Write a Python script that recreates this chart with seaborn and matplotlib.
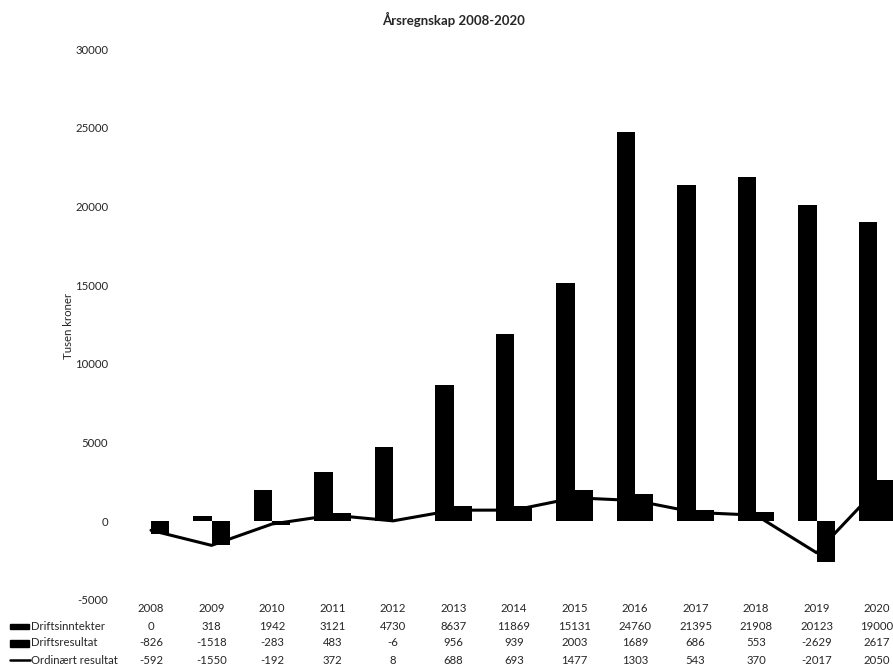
import pandas as pd
import matplotlib
matplotlib.use('Agg')
import matplotlib.pyplot as plt
import seaborn as sns
from matplotlib.patches import Rectangle
from matplotlib.lines import Line2D

years = ['2008', '2009', '2010', '2011', '2012', '2013', '2014',
         '2015', '2016', '2017', '2018', '2019', '2020']
driftsinntekter = [0, 318, 1942, 3121, 4730, 8637, 11869, 15131, 24760, 21395, 21908, 20123, 19000]
driftsresultat = [-826, -1518, -283, 483, -6, 956, 939, 2003, 1689, 686, 553, -2629, 2617]
ordinaert = [-592, -1550, -192, 372, 8, 688, 693, 1477, 1303, 543, 370, -2017, 2050]
serier = ['Driftsinntekter', 'Driftsresultat', 'Ordinært resultat']

sns.set_style('white')
plt.rcParams['font.family'] = ['Lato', 'DejaVu Sans']
fs = 8.2

# long format for the two bar series
bars = pd.DataFrame({
    'år': years * 2,
    'verdi': driftsinntekter + driftsresultat,
    'serie': [serier[0]] * len(years) + [serier[1]] * len(years),
})
linje = pd.DataFrame({'år': years, 'verdi': ordinaert})

fig = plt.figure(figsize=(8.93, 6.69), dpi=100)
ax = fig.add_axes([120.75 / 893, 1 - 599.6 / 669, 786.5 / 893, 550.2 / 669])

sns.barplot(data=bars, x='år', y='verdi', hue='serie', order=years,
            palette=['black', 'black'], width=0.6, gap=0, ax=ax,
            legend=False, saturation=1, linewidth=0, edgecolor='black')
sns.pointplot(data=linje, x='år', y='verdi', order=years, color='black',
              markers='', linewidth=2.2, ax=ax, zorder=5)

ax.set_ylim(-5000, 30000)
ax.set_yticks(range(-5000, 30001, 5000))
ax.set_yticklabels([str(v) for v in range(-5000, 30001, 5000)], fontsize=fs)
ax.tick_params(axis='y', length=0, pad=9)
ax.set_xticks([])
ax.set_xlabel('')
ax.set_ylabel('')
sns.despine(ax=ax, left=True, bottom=True)

fig.text(453 / 893, 1 - 19 / 669, 'Årsregnskap 2008-2020', ha='center', va='center',
         fontsize=9.5, fontweight='bold')
fig.text(68 / 893, 1 - 326 / 669, 'Tusen kroner', rotation=90, ha='center', va='center',
         fontsize=fs)

# data table under the chart
trans = matplotlib.transforms.blended_transform_factory(ax.transData, fig.transFigure)
rad_y = [608, 626, 643, 660]
for i, yr in enumerate(years):
    ax.text(i, 1 - rad_y[0] / 669, yr, transform=trans, ha='center', va='center', fontsize=fs)
    for r, vals in enumerate([driftsinntekter, driftsresultat, ordinaert]):
        ax.text(i, 1 - rad_y[r + 1] / 669, str(vals[i]), transform=trans,
                ha='center', va='center', fontsize=fs)

key_h = [5, 7]
for r, navn in enumerate(serier):
    yc = 1 - rad_y[r + 1] / 669
    if r < 2:
        fig.patches.append(Rectangle((10 / 893, yc - key_h[r] / 2 / 669), 19 / 893, key_h[r] / 669,
                                     transform=fig.transFigure, color='black'))
    else:
        fig.lines.append(Line2D([10 / 893, 30 / 893], [yc, yc], transform=fig.transFigure,
                                color='black', lw=1.8))
    fig.text(31 / 893, yc, navn, ha='left', va='center', fontsize=fs)

fig.savefig('out.png', dpi=100)
